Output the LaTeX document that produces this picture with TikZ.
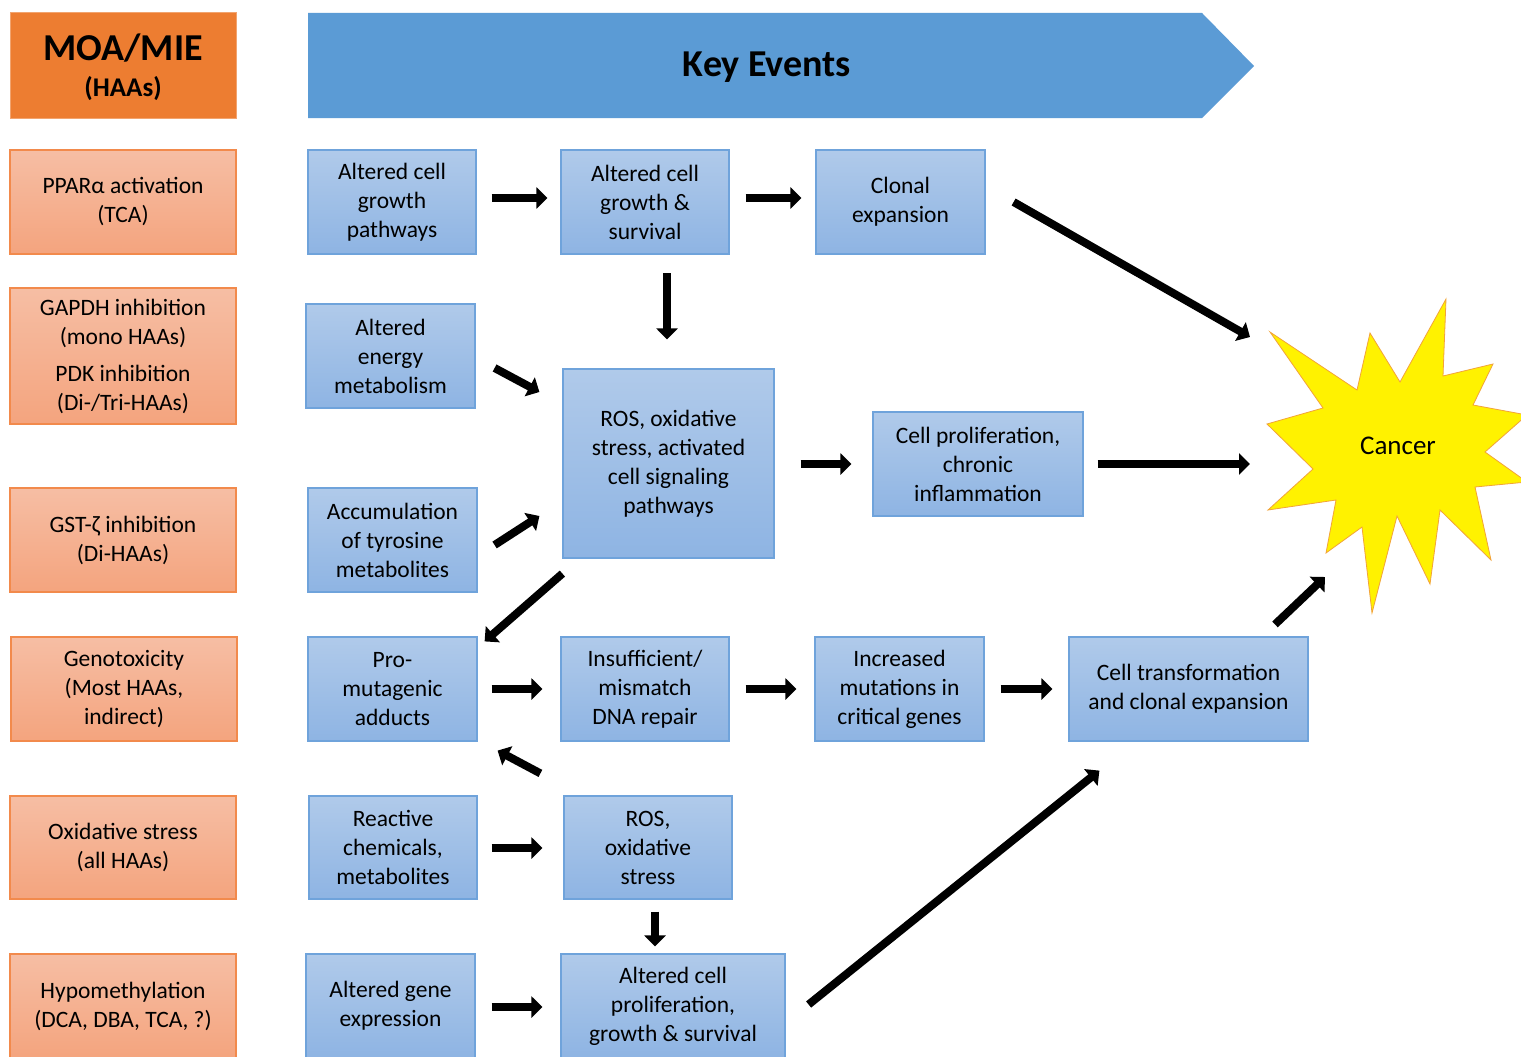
\documentclass[tikz,border=0pt]{standalone}
\usepackage{fontspec}
\setmainfont{Carlito}
\usetikzlibrary{arrows.meta,calc}
\definecolor{salmonTop}{HTML}{F6BEA4}
\definecolor{salmonBot}{HTML}{F4A47E}
\definecolor{salmonLine}{HTML}{F28A4C}
\definecolor{blueTop}{HTML}{B0CAEA}
\definecolor{blueBot}{HTML}{8EB4E3}
\definecolor{blueLine}{HTML}{6FA3DB}
\definecolor{hdrOrange}{HTML}{ED7D31}
\definecolor{hdrBlue}{HTML}{5B9BD5}
\definecolor{starLine}{HTML}{F2A33A}
\begin{document}
\begin{tikzpicture}[x=1pt,y=-1pt,
  boxtext/.style={align=center,font=\fontsize{23.5}{29}\selectfont,inner sep=0pt},
  moabox/.style={boxtext,draw=salmonLine,line width=1.2pt,top color=salmonTop,bottom color=salmonBot,minimum width=226pt},
  kebox/.style={boxtext,draw=blueLine,line width=1.2pt,top color=blueTop,bottom color=blueBot},
  arr/.style={line width=8pt,-{Triangle[length=11pt,width=21pt]}},
]
\useasboundingbox (0,0) rectangle (1521,1057);
\fill[white] (0,0) rectangle (1521,1057);

% headers
\node[fill=hdrOrange,draw=hdrOrange!70!white,line width=1pt,minimum width=226pt,minimum height=105pt,inner sep=0pt] (moa) at (123,65.5) {};
\node[font=\fontsize{38}{40}\selectfont\bfseries] (moat) at (123,48) {MOA/MIE};
\node[font=\fontsize{27}{30}\selectfont\bfseries] (haat) at (123,89) {(HAAs)};
\fill[hdrBlue] (308,13) -- (1202,13) -- (1254,66) -- (1202,118) -- (308,118) -- cycle;
\node[font=\fontsize{38}{40}\selectfont\bfseries] (ke) at (767,67) {Key Events};

% MOA column
\node[moabox,minimum height=104pt] (l1) at (123,202) {PPARα activation\\(TCA)};
\node[moabox,minimum height=136pt] (l2) at (123,356) {GAPDH inhibition\\(mono HAAs)\\[8pt]PDK inhibition\\(Di-/Tri-HAAs)};
\node[moabox,minimum height=104pt] (l3) at (123,540) {GST-ζ inhibition\\(Di-HAAs)};
\node[moabox,minimum height=104pt] (l4) at (124,689) {Genotoxicity\\(Most HAAs,\\indirect)};
\node[moabox,minimum height=103pt] (l5) at (123,847.5) {Oxidative stress\\(all HAAs)};
\node[moabox,minimum height=104pt] (l6) at (123,1006) {Hypomethylation\\(DCA, DBA, TCA, ?)};

% key events
\node[kebox,minimum width=168pt,minimum height=104pt] (b1) at (392,202) {Altered cell\\growth\\pathways};
\node[kebox,minimum width=168pt,minimum height=104pt] (b2) at (645,202) {Altered cell\\growth \&\\survival};
\node[kebox,minimum width=169pt,minimum height=104pt] (b3) at (900.5,202) {Clonal\\expansion};
\node[kebox,minimum width=169pt,minimum height=104pt] (b4) at (390.5,356) {Altered\\energy\\metabolism};
\node[kebox,minimum width=211pt,minimum height=189pt] (b5) at (668.5,463.5) {ROS, oxidative\\stress, activated\\cell signaling\\pathways};
\node[kebox,minimum width=210pt,minimum height=104pt] (b6) at (978,464) {Cell proliferation,\\chronic\\inflammation};
\node[kebox,minimum width=169pt,minimum height=104pt] (b7) at (392.5,540) {Accumulation\\of tyrosine\\metabolites};
\node[kebox,minimum width=169pt,minimum height=104pt] (b8) at (392.5,689) {Pro-\\mutagenic\\adducts};
\node[kebox,minimum width=168pt,minimum height=104pt] (b9) at (645,689) {Insufficient/\\mismatch\\DNA repair};
\node[kebox,minimum width=169pt,minimum height=104pt] (b10) at (899.5,689) {Increased\\mutations in\\critical genes};
\node[kebox,minimum width=239pt,minimum height=104pt] (b11) at (1188.5,689) {Cell transformation\\and clonal expansion};
\node[kebox,minimum width=168pt,minimum height=103pt] (b12) at (393,847.5) {Reactive\\chemicals,\\metabolites};
\node[kebox,minimum width=168pt,minimum height=103pt] (b13) at (648,847.5) {ROS,\\oxidative\\stress};
\node[kebox,minimum width=169pt,minimum height=104pt] (b14) at (390.5,1006) {Altered gene\\expression};
\node[kebox,minimum width=224pt,minimum height=104pt] (b15) at (673,1006) {Altered cell\\proliferation,\\growth \& survival};

% cancer star
\filldraw[fill=yellow,draw=starLine,line width=0.8pt]
  (1446,299) -- (1443,376) -- (1493,364) -- (1473,405) -- (1527,415) -- (1485,452)
  -- (1527,482) -- (1475,487) -- (1491,560) -- (1440,510) -- (1430,584) -- (1397,516)
  -- (1372,613) -- (1362,527) -- (1326,553) -- (1336,500) -- (1268,510) -- (1313,469)
  -- (1267,424) -- (1323,408) -- (1270,332) -- (1357,390) -- (1370,333) -- (1400,382) -- cycle;
\node[font=\fontsize{27}{30}\selectfont] (cancer) at (1398,446) {Cancer};

% arrows
\draw[arr] ($(b1.east)+(15,-4)$) -- ($(b2.west)+(-13,-4)$);
\draw[arr] ($(b2.east)+(16,-4)$) -- ($(b3.west)+(-14,-4)$);
\draw[arr] ($(b3.east)+(28,0)$) -- ($(cancer)+(-148,-109)$);
\draw[arr] ($(b5.north)+(-1.5,-95)$) -- ($(b5.north)+(-1.5,-29)$);
\draw[arr] ($(b4.east)+(19,12)$) -- ($(b5.west)+(-23,-71.5)$);
\draw[arr] ($(b7.east)+(17,5)$) -- ($(b5.west)+(-23,52.5)$);
\draw[arr] ($(b5.east)+(26,0.5)$) -- ($(b6.west)+(-21,0)$);
\draw[arr] ($(b6.east)+(14,0)$) -- ($(cancer)+(-148,18)$);
\draw[arr] ($(b5.south west)+(0,15)$) -- ($(b8.north east)+(7,5)$);
\draw[arr] ($(b8.east)+(14,0)$) -- ($(b9.west)+(-18,0)$);
\draw[arr] ($(b9.east)+(16,0)$) -- ($(b10.west)+(-18,0)$);
\draw[arr] ($(b10.east)+(16,0)$) -- ($(b11.west)+(-16,0)$);
\draw[arr] ($(b11.north)+(86.5,-12)$) -- ($(cancer)+(-73,131)$);
\draw[arr] ($(b13.north west)+(-23,-22)$) -- ($(b8.south east)+(20,9)$);
\draw[arr] ($(b12.east)+(14,0.5)$) -- ($(b13.west)+(-21,0.5)$);
\draw[arr] ($(b13.south)+(7,12)$) -- ($(b15.north)+(-18,-7)$);
\draw[arr] ($(b15.east)+(23,-1.5)$) -- ($(b11.south west)+(31,29)$);
\draw[arr] ($(b14.east)+(16,1)$) -- ($(b15.west)+(-18,1)$);
\end{tikzpicture}
\end{document}
